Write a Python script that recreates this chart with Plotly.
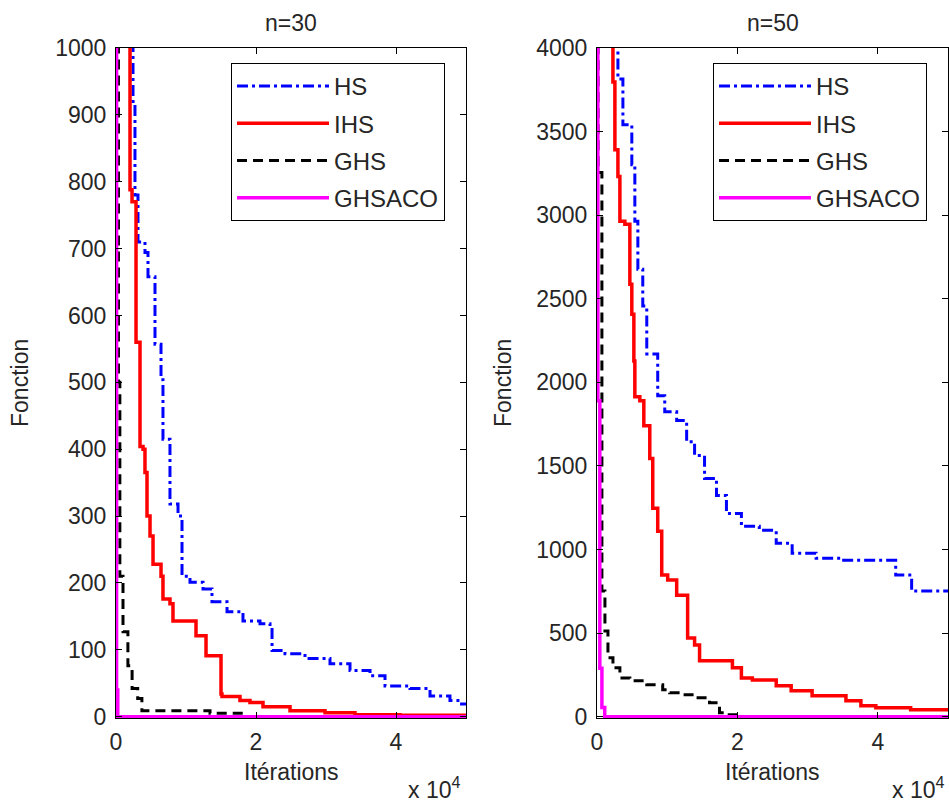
import plotly.graph_objects as go

# ---------------- data (iterations, function value) ----------------
# n = 30
hs30_x = [0, 2430, 2710, 3140, 4140, 4570, 5570, 6430, 6710, 7710, 8860, 9430, 10570,
          12430, 13710, 15860, 18140, 20570, 22000, 22290, 24140, 27000, 30570, 33430,
          36290, 38430, 42000, 44860, 47710, 49140, 50000]
hs30_y = [10000, 920, 780, 710, 694, 658, 557, 504, 415, 318, 300, 210, 201,
          191, 172, 157, 143, 139, 134, 99, 94, 87, 79, 69,
          61, 46, 42, 31, 24, 19, 19]

ihs30_x = [0, 2000, 2290, 2860, 3430, 3860, 4140, 4430, 4860, 5290, 6430, 6710, 7710,
           8140, 11430, 12860, 15000, 15140, 17710, 19140, 21000, 24860, 29860, 34140,
           40570, 50000]
ihs30_y = [10000, 788, 770, 560, 404, 400, 365, 300, 270, 228, 210, 176, 169,
           143, 121, 91, 34, 30, 24, 21, 15, 9, 6, 3,
           2, 2]

ghs30_x = [0, 350, 550, 1000, 1700, 2300, 3100, 3700, 13430, 18140, 50000]
ghs30_y = [10000, 500, 210, 127, 76, 42, 27, 9, 5, 0, 0]

ghsaco30_x = [0, 80, 250, 50000]
ghsaco30_y = [10000, 40, 0, 0]

# n = 50
hs50_x = [0, 2980, 3690, 4960, 5390, 5820, 6520, 7090, 8650, 9650, 11350, 12770, 13900,
          15320, 17020, 18440, 20570, 23120, 25530, 27800, 31210, 34890, 42550, 44820,
          50000]
hs50_y = [20000, 3815, 3541, 3302, 2963, 2677, 2456, 2170, 1920, 1824, 1771, 1645, 1562,
          1425, 1323, 1216, 1139, 1115, 1037, 978, 948, 936, 847, 751,
          751]

ihs50_x = [0, 2270, 2550, 2980, 3260, 3970, 4680, 4960, 5250, 5390, 6100, 6670, 7520,
           7940, 8650, 9220, 10070, 11350, 12910, 13900, 14610, 19290, 20570, 22130,
           25530, 27660, 30640, 35460, 37590, 39720, 44680, 50000]
ihs50_y = [20000, 3797, 3392, 3231, 2963, 2945, 2587, 2408, 2128, 1914, 1890, 1741, 1544,
           1246, 1109, 847, 817, 727, 471, 429, 334, 292, 232, 220,
           185, 155, 125, 95, 66, 54, 42, 42]

ghs50_x = [0, 150, 700, 1130, 1560, 2270, 3260, 4680, 7090, 9360, 10350, 11770, 13900,
           16030, 17450, 18440, 20280, 50000]
ghs50_y = [20000, 3255, 751, 513, 352, 292, 232, 215, 191, 161, 143, 131, 113,
           83, 24, 12, 0, 0]

ghsaco50_x = [0, 120, 400, 700, 1100, 50000]
ghsaco50_y = [20000, 1890, 290, 55, 0, 0]

series_names = ["HS", "IHS", "GHS", "GHSACO"]
x_tick_vals = [0, 20000, 40000]
x_tick_text = ["0", "2", "4"]
titles = ["n=30", "n=50"]

# ---------------- styling ----------------
FONT = "Liberation Sans, Arial, Helvetica, sans-serif"
TXT = "#262626"
FS = 23
W, H = 949, 804

styles = [
    dict(color="#0000FF", width=3, dash="11px,4px,3px,4px"),
    dict(color="#FF0000", width=3.5, dash="solid"),
    dict(color="#000000", width=3, dash="10px,6px"),
    dict(color="#FF00FF", width=3.5, dash="solid"),
]

fig = go.Figure()

panels = [
    ([(hs30_x, hs30_y), (ihs30_x, ihs30_y), (ghs30_x, ghs30_y), (ghsaco30_x, ghsaco30_y)], "x", "y", "legend", "a"),
    ([(hs50_x, hs50_y), (ihs50_x, ihs50_y), (ghs50_x, ghs50_y), (ghsaco50_x, ghsaco50_y)], "x2", "y2", "legend2", "b"),
]
for data, xa, ya, lg, tag in panels:
    for (xs, ys), name, st in zip(data, series_names, styles):
        fig.add_trace(go.Scatter(
            x=xs, y=ys, name=name, mode="lines", line_shape="hv",
            line=st, xaxis=xa, yaxis=ya, legend=lg, legendgroup=tag + name,
            hoverinfo="skip"))

px_x = lambda p: p / W
px_y = lambda p: 1 - p / H

axis_common = dict(
    showline=True, linecolor="black", linewidth=1, mirror="ticks",
    ticks="inside", ticklen=6, tickcolor="black", tickwidth=1,
    showgrid=False, zeroline=False, automargin=False,
    tickfont=dict(family=FONT, size=FS, color=TXT),
)

ydom = [px_y(718), px_y(48)]
fig.update_layout(
    width=W, height=H, margin=dict(l=0, r=0, t=0, b=0),
    paper_bgcolor="white", plot_bgcolor="white",
    font=dict(family=FONT, size=FS, color=TXT),
    xaxis=dict(domain=[px_x(116), px_x(466)], range=[0, 50000], anchor="y",
               tickvals=x_tick_vals, ticktext=x_tick_text, ticklabelstandoff=3, **axis_common),
    yaxis=dict(domain=ydom, range=[-2, 1000], anchor="x", tick0=0, dtick=100,
               ticklabelstandoff=4, **axis_common),
    xaxis2=dict(domain=[px_x(597), px_x(948)], range=[0, 50000], anchor="y2",
                tickvals=x_tick_vals, ticktext=x_tick_text, ticklabelstandoff=3, **axis_common),
    yaxis2=dict(domain=ydom, range=[-8, 4000], anchor="x2", tick0=0, dtick=500,
                ticklabelstandoff=4, **axis_common),
    showlegend=True,
)

leg_common = dict(
    bgcolor="white", bordercolor="black", borderwidth=1,
    font=dict(family=FONT, size=24, color=TXT),
    xanchor="left", yanchor="top", itemwidth=92, tracegroupgap=3,
    entrywidth=122, entrywidthmode="pixels",
    itemclick=False, itemdoubleclick=False,
)
fig.update_layout(
    legend=dict(x=px_x(231), y=px_y(63), **leg_common),
    legend2=dict(x=px_x(713), y=px_y(63), **leg_common),
)

ann = []
for cx, title in [(291, titles[0]), (772.5, titles[1])]:
    ann.append(dict(text=title, x=px_x(cx), y=px_y(23), xref="paper", yref="paper",
                    showarrow=False, xanchor="center", yanchor="middle",
                    font=dict(family=FONT, size=FS, color=TXT)))
    ann.append(dict(text="Itérations", x=px_x(cx), y=px_y(772), xref="paper", yref="paper",
                    showarrow=False, xanchor="center", yanchor="middle",
                    font=dict(family=FONT, size=FS, color=TXT)))
for fx, rx in [(20, 462), (503, 946)]:
    ann.append(dict(text="Fonction", x=px_x(fx), y=px_y(383), xref="paper", yref="paper",
                    showarrow=False, xanchor="center", yanchor="middle", textangle=-90,
                    font=dict(family=FONT, size=FS, color=TXT)))
    ann.append(dict(text="x 10<sup>4</sup>", x=px_x(rx), y=px_y(788), xref="paper", yref="paper",
                    showarrow=False, xanchor="right", yanchor="middle",
                    font=dict(family=FONT, size=FS, color=TXT)))
fig.update_layout(annotations=ann)

fig.write_html(
    "out.html",
    config={"displayModeBar": False, "staticPlot": True},
    post_script="document.body.style.margin='0px';document.body.style.overflow='hidden';",
)
